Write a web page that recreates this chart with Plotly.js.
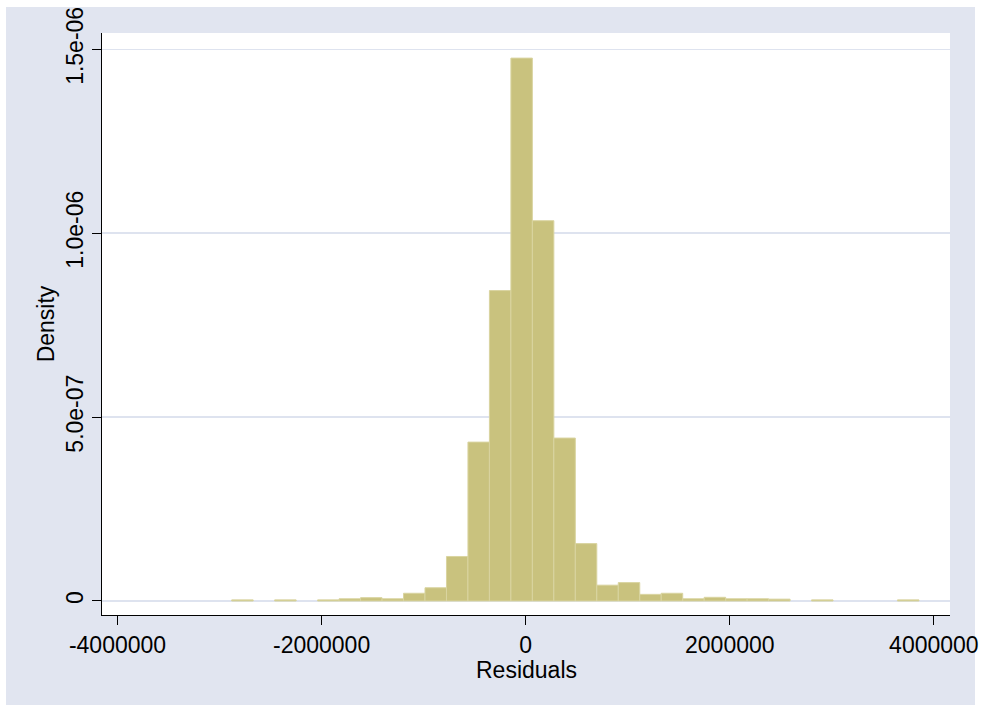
<!DOCTYPE html>
<html>
<head>
<meta charset="utf-8">
<script src="https://cdn.plot.ly/plotly-3.0.1.min.js"></script>
<style>
  html, body { margin: 0; padding: 0; background: #ffffff; width: 985px; height: 708px; overflow: hidden; }
  #region { position: absolute; left: 6px; top: 7px; width: 969px; height: 698px; background: rgb(225,229,240); }
  #chart { position: absolute; left: 0; top: 0; width: 985px; height: 708px; }
</style>
</head>
<body>
<div id="region"></div>
<div id="chart"></div>
<script>
// Histogram of residuals (bin centers and density per bin)
const binWidth = 210460;
const binCenters = [
  -2775770, -2565310, -2354850, -2144390, -1933930, -1723470, -1513010, -1302550,
  -1092090, -881630, -671170, -460710, -250250, -39790, 170670, 381130,
  591590, 802050, 1012510, 1222970, 1433430, 1643890, 1854350, 2064810,
  2275270, 2485730, 2696190, 2906650, 3117110, 3327570, 3538030, 3748490
];
const density = [
  3e-9, 0, 3e-9, 0, 3e-9, 6e-9, 9e-9, 6e-9,
  2.1e-8, 3.6e-8, 1.21e-7, 4.32e-7, 8.44e-7, 1.476e-6, 1.034e-6, 4.43e-7,
  1.56e-7, 4.3e-8, 5.0e-8, 1.8e-8, 2.1e-8, 6e-9, 1.0e-8, 6e-9,
  6e-9, 5e-9, 0, 3e-9, 0, 0, 0, 3e-9
];
const xTickVals = [-4000000, -2000000, 0, 2000000, 4000000];
const xTickText = ["-4000000", "-2000000", "0", "2000000", "4000000"];
const yTickVals = [0, 5e-7, 1e-6, 1.5e-6];
const yTickText = ["0", "5.0e-07", "1.0e-06", "1.5e-06"];
const xTitle = "Residuals";
const yTitle = "Density";

// keep empty bins out of the drawing
const xs = [], ys = [];
for (let i = 0; i < binCenters.length; i++) {
  if (density[i] > 0) { xs.push(binCenters[i]); ys.push(density[i]); }
}

const FONT = "Liberation Sans, Arial, Helvetica, sans-serif";
const grid = "rgb(222,227,239)";

const trace = {
  type: "bar",
  x: xs,
  y: ys,
  width: binWidth,
  marker: { color: "rgb(201,194,126)", line: { color: "rgb(217,212,160)", width: 1 } },
  hoverinfo: "x+y"
};

const layout = {
  width: 985,
  height: 708,
  margin: { l: 102, r: 35, t: 33, b: 93, pad: 0 },
  paper_bgcolor: "rgba(0,0,0,0)",
  plot_bgcolor: "#ffffff",
  showlegend: false,
  bargap: 0,
  font: { family: FONT, size: 23, color: "#000000" },
  xaxis: {
    range: [-4152000, 4158000],
    tickmode: "array",
    tickvals: xTickVals,
    ticktext: xTickText,
    ticks: "outside",
    ticklen: 9,
    tickwidth: 1,
    tickcolor: "#000000",
    ticklabeloverflow: "allow",
    showline: true,
    linecolor: "#000000",
    linewidth: 1,
    showgrid: false,
    zeroline: false,
    tickfont: { family: FONT, size: 23, color: "#000000" },
    automargin: false
  },
  yaxis: {
    range: [-3.81e-8, 1.5443e-6],
    tickmode: "array",
    tickvals: yTickVals,
    ticktext: yTickText,
    tickangle: -90,
    ticks: "outside",
    ticklen: 9,
    tickwidth: 1,
    tickcolor: "#000000",
    ticklabeloverflow: "allow",
    showline: true,
    linecolor: "#000000",
    linewidth: 1,
    showgrid: true,
    gridcolor: grid,
    gridwidth: 1.5,
    zeroline: false,
    tickfont: { family: FONT, size: 23, color: "#000000" },
    title: { text: yTitle, font: { family: FONT, size: 23, color: "#000000" }, standoff: 0 },
    automargin: false
  },
  annotations: [{
    text: xTitle,
    xref: "paper", yref: "paper",
    x: 0.5, y: 0,
    xanchor: "center", yanchor: "top",
    yshift: -40,
    showarrow: false,
    font: { family: FONT, size: 23, color: "#000000" }
  }]
};

Plotly.newPlot("chart", [trace], layout, { staticPlot: true, displayModeBar: false });
</script>
</body>
</html>
